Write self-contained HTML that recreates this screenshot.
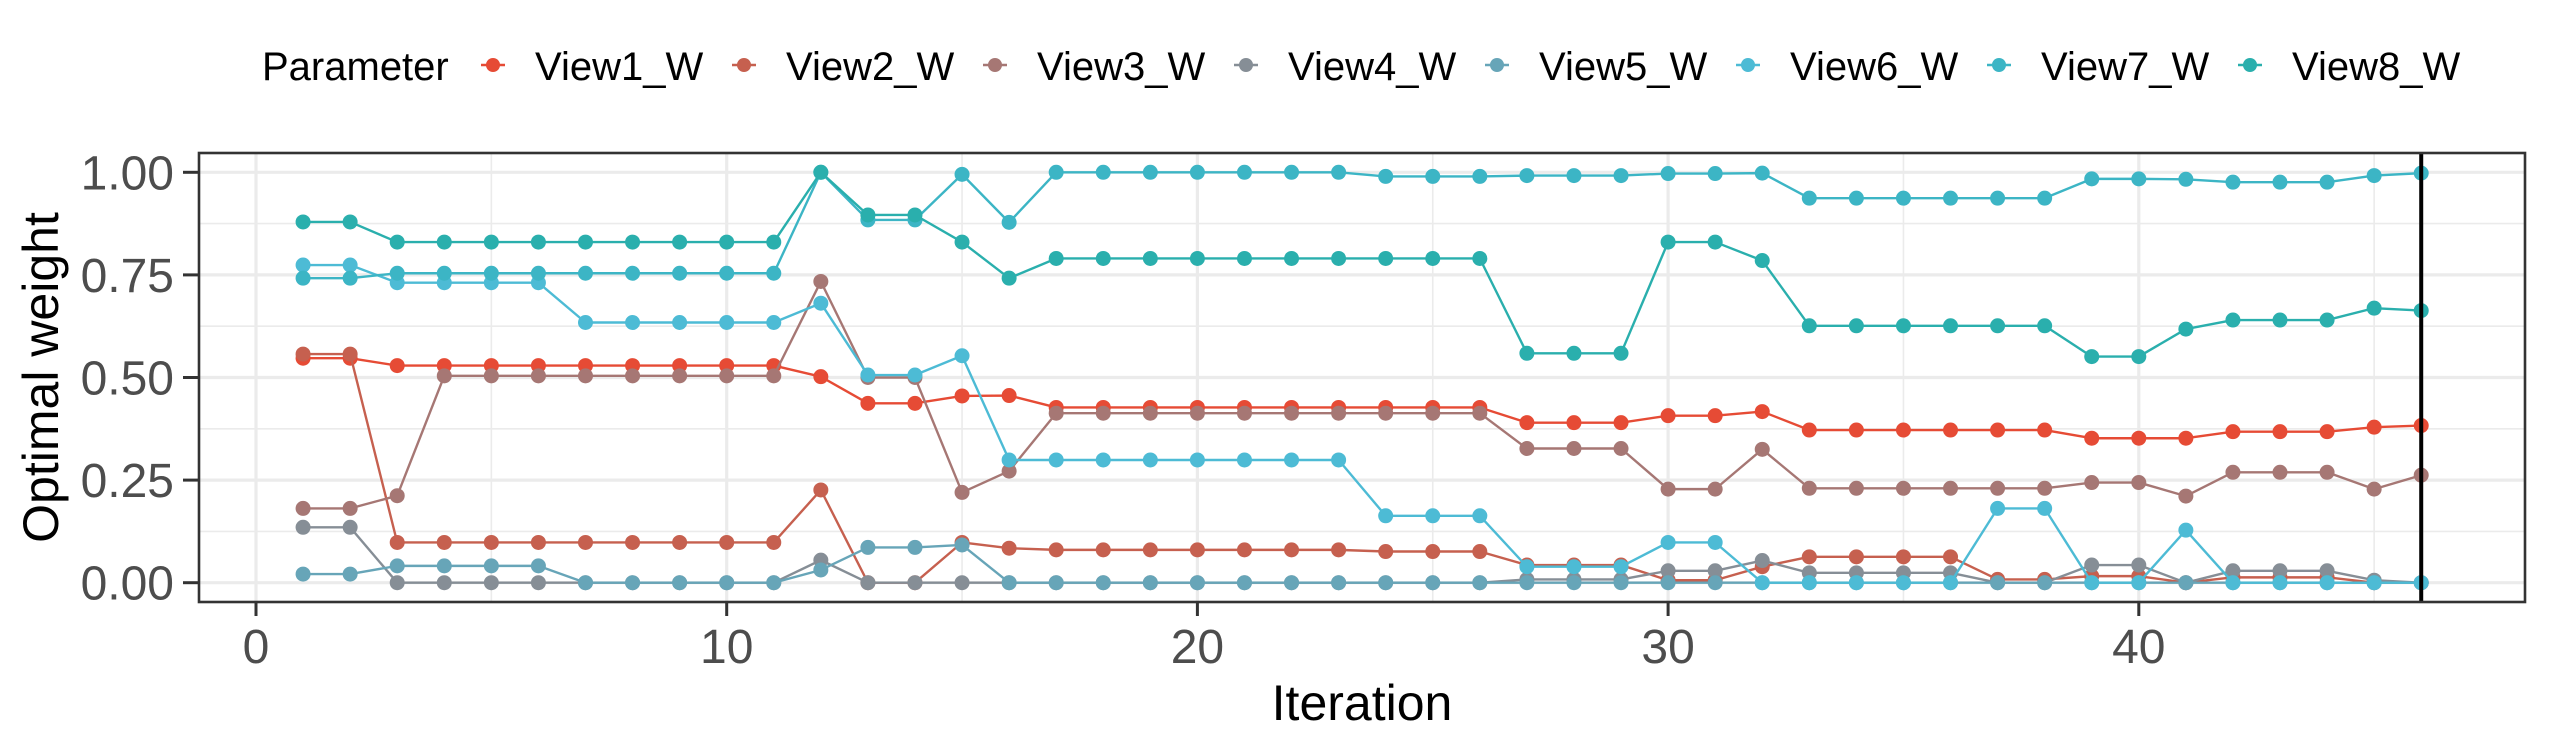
<!DOCTYPE html>
<html><head><meta charset="utf-8"><style>
html,body{margin:0;padding:0;background:#fff;}
svg{display:block;font-family:"Liberation Sans",Arial,sans-serif;}
</style></head><body>
<svg id="chart" xmlns="http://www.w3.org/2000/svg" width="2550" height="750" viewBox="0 0 2550 750">
<rect x="0" y="0" width="2550" height="750" fill="#fff"/>
<g id="grid"></g>
<g id="series"></g>
<g id="axes"></g>
<g id="legend"></g>
</svg>
<script>
const seriesNames = ["View1_W","View2_W","View3_W","View4_W","View5_W","View6_W","View7_W","View8_W"];
const seriesColors = ["#E64B35","#C6604F","#A67774","#868E96","#67A5B8","#4DBBD5","#3CB5C5","#2AAFAD"];
const xTicks = [0,10,20,30,40];
const yTicks = [0,0.25,0.5,0.75,1.0];
const yTickLabels = ["0.00","0.25","0.50","0.75","1.00"];
const markerIteration = 46;
function rep(v,n){return Array(n).fill(v);}
const view1 = [0.547,0.547,...rep(0.529,9),0.502,0.437,0.437,0.455,0.456,...rep(0.427,10),...rep(0.39,3),0.407,0.407,0.417,...rep(0.372,6),...rep(0.352,3),...rep(0.368,3),0.379,0.383];
const view2 = [0.557,0.557,...rep(0.098,9),0.226,0,0,0.098,0.084,...rep(0.08,7),...rep(0.076,3),...rep(0.043,3),0.006,0.006,0.039,...rep(0.063,4),0.008,0.008,0.016,0.016,0,...rep(0.013,3),0,0];
const view3 = [0.181,0.181,0.212,...rep(0.504,8),0.734,0.5,0.5,0.22,0.272,...rep(0.413,10),...rep(0.327,3),0.228,0.228,0.325,...rep(0.23,6),0.244,0.244,0.211,...rep(0.269,3),0.228,0.262];
const view4 = [0.135,0.135,...rep(0,9),0.055,...rep(0,14),...rep(0.008,3),0.029,0.029,0.054,...rep(0.024,4),0,0,0.043,0.043,0,...rep(0.029,3),0.006,0];
const view5 = [0.021,0.021,...rep(0.041,4),...rep(0,5),0.031,0.086,0.086,0.092,...rep(0,31)];
const view6 = [0.774,0.774,...rep(0.731,4),...rep(0.634,5),0.681,0.506,0.506,0.553,...rep(0.299,8),...rep(0.163,3),...rep(0.039,3),0.098,0.098,...rep(0,5),0.181,0.181,0,0,0.128,...rep(0,5)];
const view7 = [0.742,0.742,...rep(0.754,9),1.0,0.884,0.884,0.995,0.878,...rep(1.0,7),...rep(0.99,3),...rep(0.992,3),0.997,0.997,0.998,...rep(0.937,6),0.984,0.984,0.983,...rep(0.976,3),0.992,0.998];
const view8 = [0.879,0.879,...rep(0.83,9),1.0,0.896,0.896,0.83,0.742,...rep(0.79,10),...rep(0.559,3),0.83,0.83,0.785,...rep(0.626,6),0.551,0.551,0.618,...rep(0.64,3),0.669,0.663];
const allSeries = [view1,view2,view3,view4,view5,view6,view7,view8];

const NS="http://www.w3.org/2000/svg";
const P={l:199,r:2525,t:153,b:602};
function xs(v){return 256 + v*47.07;}
function ys(v){return 582.7 - v*410.4;}
function mk(tag,attrs,parent){const e=document.createElementNS(NS,tag);for(const k in attrs)e.setAttribute(k,attrs[k]);parent.appendChild(e);return e;}

const grid=document.getElementById('grid');
for(let i=0;i<yTicks.length-1;i++){const v=(yTicks[i]+yTicks[i+1])/2;
  const l=mk('line',{x1:P.l,x2:P.r,y1:ys(v),y2:ys(v),stroke:'#ebebeb','stroke-width':1.6},grid);
  
  }
for(let i=0;i<xTicks.length;i++){const v=xTicks[i]+5;
  const l=mk('line',{x1:xs(v),x2:xs(v),y1:P.t,y2:P.b,stroke:'#ebebeb','stroke-width':1.6},grid);
  
  }
yTicks.forEach(v=>{const l=mk('line',{x1:P.l,x2:P.r,y1:ys(v),y2:ys(v),stroke:'#ebebeb','stroke-width':3.2},grid);
  
  });
xTicks.forEach(v=>{const l=mk('line',{x1:xs(v),x2:xs(v),y1:P.t,y2:P.b,stroke:'#ebebeb','stroke-width':3.2},grid);
  
  });

const sl=document.getElementById('series');
allSeries.forEach((arr,si)=>{
  const g=mk('g',{},sl);
  
  
  const pts=arr.map((v,i)=>xs(i+1)+','+ys(v)).join(' ');
  const pl=mk('polyline',{points:pts,fill:'none',stroke:seriesColors[si],'stroke-width':2.4,'stroke-linejoin':'round'},g);
  
  
  arr.forEach((v,i)=>{const c=mk('circle',{cx:xs(i+1),cy:ys(v),r:7.5,fill:seriesColors[si]},g);
    
    });
});

const ax=document.getElementById('axes');
const vl=mk('line',{x1:xs(markerIteration),x2:xs(markerIteration),y1:P.t,y2:P.b,stroke:'#000','stroke-width':4},ax);


const border=mk('rect',{x:P.l,y:P.t,width:P.r-P.l,height:P.b-P.t,fill:'none',stroke:'#333','stroke-width':2.6},ax);


yTicks.forEach((v,i)=>{
  const t=mk('line',{x1:P.l-16,x2:P.l,y1:ys(v),y2:ys(v),stroke:'#333','stroke-width':3},ax);
  
  
  const tx=mk('text',{x:174,y:ys(v)+17,'text-anchor':'end','font-size':48,fill:'#4d4d4d'},ax);
  tx.textContent=yTickLabels[i];
  
  
});
xTicks.forEach(v=>{
  const t=mk('line',{x1:xs(v),x2:xs(v),y1:P.b,y2:P.b+14,stroke:'#333','stroke-width':3},ax);
  
  
  const tx=mk('text',{x:xs(v),y:663,'text-anchor':'middle','font-size':48,fill:'#4d4d4d'},ax);
  tx.textContent=String(v);
  
  
});
const xt=mk('text',{x:(P.l+P.r)/2,y:720,'text-anchor':'middle','font-size':50,fill:'#000'},ax);
xt.textContent='Iteration';


const yt=mk('text',{x:0,y:0,'text-anchor':'middle','font-size':50,fill:'#000',transform:'translate(58,'+((P.t+P.b)/2)+') rotate(-90)'},ax);
yt.textContent='Optimal weight';



const lg=document.getElementById('legend');
const lt=mk('text',{x:262,y:80,'font-size':40,fill:'#000'},lg);
lt.textContent='Parameter';


seriesNames.forEach((n,i)=>{
  const lx=535+i*251;
  const g=mk('g',{},lg);
  
  
  mk('line',{x1:lx-54,x2:lx-30,y1:65,y2:65,stroke:seriesColors[i],'stroke-width':2.4},g);
  mk('circle',{cx:lx-42,cy:65,r:7,fill:seriesColors[i]},g);
  const t=mk('text',{x:lx,y:80,'font-size':40,fill:'#000'},g);
  t.textContent=n;
});
</script>
</body></html>
